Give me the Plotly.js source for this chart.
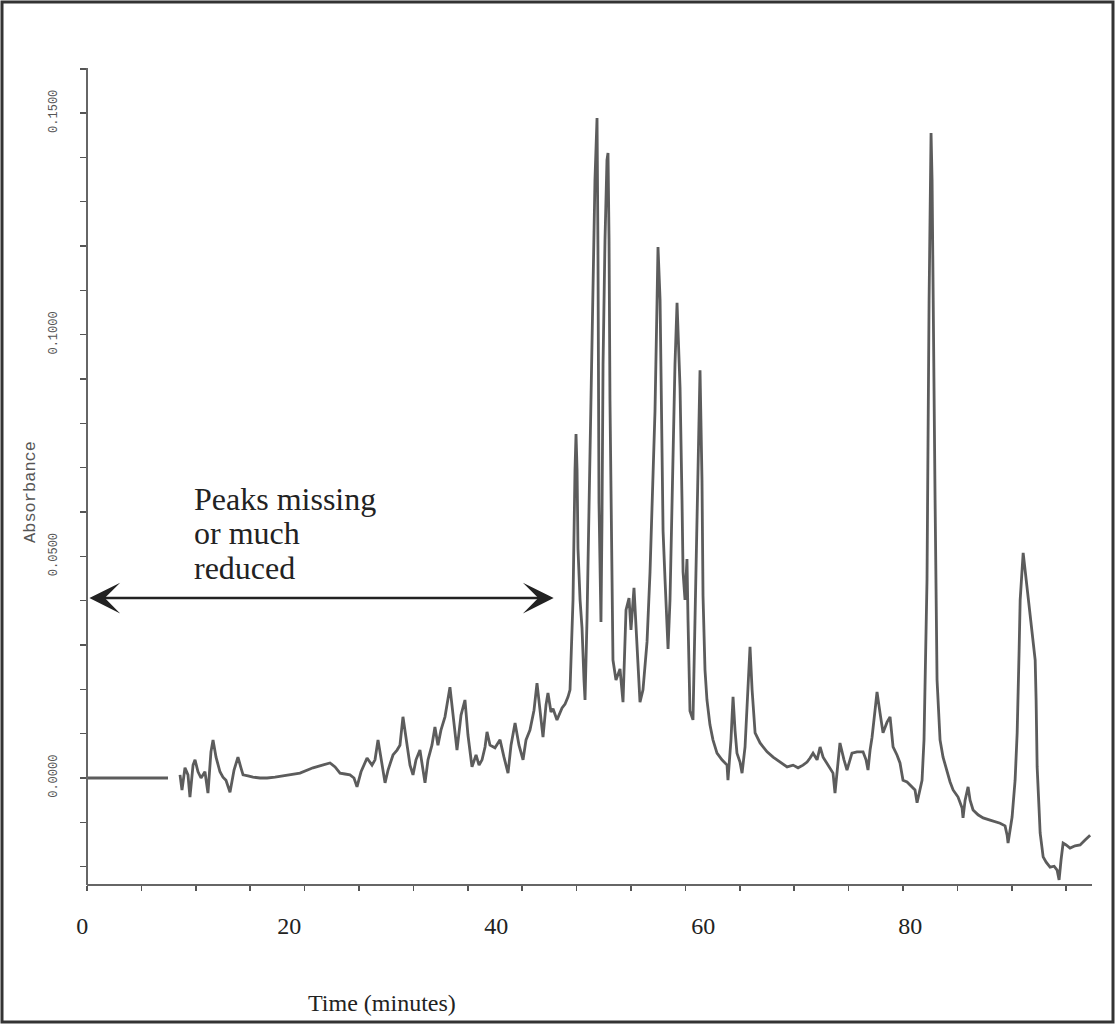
<!DOCTYPE html>
<html>
<head>
<meta charset="utf-8">
<script src="https://cdn.plot.ly/plotly-3.0.1.min.js"></script>
<style>
html,body{margin:0;padding:0;background:#fff;}
#chart{width:1115px;height:1024px;}
</style>
</head>
<body>
<div id="chart"></div>
<script>
// Time (minutes) of each sample; null marks the break in the recorded trace
const timeMin = [
0.46, 4.0, 8.29, null,
9.45, 9.64, 9.93, 10.22, 10.41, 10.71, 10.90, 11.19, 11.48, 11.86, 12.15, 12.44, 12.64, 12.93, 13.31, 13.60,
13.89, 14.28, 14.67, 15.05, 15.34, 15.54, 16.02, 16.50, 17.18, 17.86, 18.63, 19.79, 21.04, 22.30, 23.17, 23.94,
24.43, 24.91, 25.39, 25.87, 26.26, 26.55, 26.94, 27.52, 28.00, 28.29, 28.58, 28.87, 29.26, 29.55, 30.03, 30.42,
30.70, 30.99, 31.28, 31.67, 31.96, 32.25, 32.63, 32.92, 33.12, 33.41, 33.79, 34.08, 34.37, 34.66, 35.05, 35.53,
35.92, 36.21, 36.60, 36.98, 37.27, 37.66, 38.05, 38.34, 38.63, 38.92, 39.11, 39.40, 39.88, 40.37, 40.75, 41.14,
41.43, 41.82, 42.20, 42.59, 42.88, 43.26, 43.65, 43.94, 44.23, 44.52, 44.81, 45.00, 45.29, 45.49, 45.87, 46.16,
46.36, 46.65, 46.94, 47.13, 47.42, 47.61, 47.71, 47.81, 47.90, 48.10, 48.29, 48.48, 48.58, 48.77, 49.06, 49.25,
49.35, 49.54, 49.74, 49.83, 49.93, 50.03, 50.12, 50.22, 50.32, 50.51, 50.70, 50.80, 50.90, 50.99, 51.09, 51.19,
51.28, 51.57, 51.96, 52.25, 52.54, 52.83, 53.02, 53.31, 53.60, 53.89, 54.18, 54.57, 54.86, 55.15, 55.34, 55.54,
55.63, 55.83, 56.02, 56.12, 56.31, 56.50, 56.60, 56.79, 56.98, 57.27, 57.47, 57.66, 57.76, 57.95, 58.05, 58.24,
58.43, 58.53, 58.72, 59.01, 59.21, 59.40, 59.59, 59.69, 59.88, 59.98, 60.17, 60.36, 60.65, 60.94, 61.33, 61.81,
62.30, 62.39, 62.68, 62.88, 63.07, 63.26, 63.55, 63.75, 64.04, 64.33, 64.52, 64.72, 65.01, 65.49, 66.17, 66.75,
67.42, 68.10, 68.68, 69.16, 69.64, 70.03, 70.32, 70.61, 71.00, 71.29, 71.58, 72.06, 72.54, 72.73, 73.02, 73.21,
73.60, 73.89, 74.18, 74.37, 74.86, 75.44, 75.73, 75.92, 76.12, 76.31, 76.60, 76.79, 77.08, 77.37, 77.76, 78.05,
78.34, 78.72, 79.01, 79.30, 79.69, 80.17, 80.46, 80.66, 80.95, 81.14, 81.33, 81.62, 81.82, 81.91, 82.01, 82.11,
82.20, 82.40, 82.59, 82.88, 83.17, 83.56, 83.85, 84.14, 84.62, 85.01, 85.10, 85.30, 85.59, 85.78, 86.07, 86.55,
87.04, 87.71, 88.68, 89.16, 89.36, 89.45, 89.65, 89.84, 90.13, 90.33, 90.52, 90.62, 90.91, 91.10, 91.39, 91.58,
91.87, 92.07, 92.16, 92.26, 92.45, 92.55, 92.84, 93.13, 93.51, 93.90, 94.19, 94.38, 94.57, 94.77, 95.06, 95.44,
95.93, 96.41, 96.89, 97.38
];

// Absorbance
const absorbance = [
0.0000, 0.0000, 0.0000, null,
0.0007, -0.0027, 0.0023, 0.0007, -0.0043, 0.0029, 0.0041, 0.0014, 0.0000, 0.0014, -0.0034, 0.0059, 0.0086, 0.0047, 0.0014, 0.0002,
-0.0005, -0.0032, 0.0018, 0.0047, 0.0023, 0.0007, 0.0005, 0.0002, 0.0000, 0.0000, 0.0002, 0.0007, 0.0011, 0.0023, 0.0029, 0.0034,
0.0025, 0.0011, 0.0009, 0.0007, 0.0000, -0.0020, 0.0014, 0.0045, 0.0029, 0.0041, 0.0086, 0.0041, -0.0011, 0.0018, 0.0052, 0.0063,
0.0074, 0.0138, 0.0086, 0.0029, 0.0007, 0.0041, 0.0063, 0.0023, -0.0011, 0.0041, 0.0074, 0.0115, 0.0074, 0.0108, 0.0138, 0.0205,
0.0131, 0.0063, 0.0142, 0.0176, 0.0097, 0.0025, 0.0052, 0.0029, 0.0041, 0.0070, 0.0104, 0.0074, 0.0068, 0.0086, 0.0047, 0.0011,
0.0074, 0.0124, 0.0074, 0.0041, 0.0086, 0.0108, 0.0153, 0.0214, 0.0153, 0.0092, 0.0165, 0.0192, 0.0149, 0.0156, 0.0131, 0.0149,
0.0158, 0.0167, 0.0183, 0.0199, 0.0402, 0.0695, 0.0776, 0.0695, 0.0517, 0.0402, 0.0338, 0.0221, 0.0176, 0.0356, 0.0724, 0.1011,
0.1139, 0.1349, 0.1489, 0.1191, 0.0620, 0.0402, 0.0352, 0.0582, 0.0932, 0.1214, 0.1394, 0.1410, 0.1214, 0.0853, 0.0620, 0.0402,
0.0266, 0.0221, 0.0246, 0.0171, 0.0379, 0.0406, 0.0334, 0.0429, 0.0307, 0.0171, 0.0199, 0.0307, 0.0465, 0.0672, 0.0828, 0.1078,
0.1198, 0.1078, 0.0740, 0.0557, 0.0447, 0.0350, 0.0291, 0.0402, 0.0620, 0.0932, 0.1072, 0.0943, 0.0880, 0.0627, 0.0465, 0.0402,
0.0494, 0.0356, 0.0151, 0.0131, 0.0356, 0.0620, 0.0853, 0.0920, 0.0672, 0.0411, 0.0244, 0.0176, 0.0120, 0.0086, 0.0056, 0.0041,
0.0029, -0.0005, 0.0086, 0.0183, 0.0108, 0.0056, 0.0036, 0.0011, 0.0070, 0.0221, 0.0296, 0.0199, 0.0102, 0.0079, 0.0059, 0.0047,
0.0036, 0.0025, 0.0029, 0.0023, 0.0029, 0.0036, 0.0045, 0.0056, 0.0041, 0.0070, 0.0047, 0.0029, 0.0011, -0.0034, 0.0029, 0.0079,
0.0041, 0.0018, 0.0041, 0.0056, 0.0059, 0.0059, 0.0041, 0.0018, 0.0063, 0.0092, 0.0153, 0.0194, 0.0147, 0.0102, 0.0126, 0.0138,
0.0070, 0.0052, 0.0034, -0.0005, -0.0009, -0.0020, -0.0027, -0.0056, -0.0027, -0.0005, 0.0086, 0.0447, 0.1078, 0.1304, 0.1455, 0.1349,
0.1078, 0.0627, 0.0221, 0.0086, 0.0047, 0.0014, -0.0009, -0.0027, -0.0043, -0.0068, -0.0090, -0.0050, -0.0020, -0.0050, -0.0072, -0.0083,
-0.0090, -0.0095, -0.0102, -0.0108, -0.0129, -0.0147, -0.0117, -0.0088, -0.0005, 0.0102, 0.0289, 0.0402, 0.0508, 0.0469, 0.0402, 0.0356,
0.0311, 0.0266, 0.0176, 0.0025, -0.0072, -0.0124, -0.0178, -0.0190, -0.0201, -0.0199, -0.0208, -0.0230, -0.0185, -0.0147, -0.0151, -0.0158,
-0.0153, -0.0151, -0.0140, -0.0129
];

const xTickVals = [0, 20, 40, 60, 80];
const xTickText = ['0', '20', '40', '60', '80'];
const yTickVals = [0, 0.05, 0.10, 0.15];
const yTickText = ['0.0000', '0.0500', '0.1000', '0.1500'];
const noteLines = ['Peaks missing', 'or much', 'reduced'];
const xTitle = 'Time (minutes)';
const yTitle = 'Absorbance';

const xRange = [-0.502, 97.56];
const yRange = [-0.02414, 0.16017];
const axisStart = 0.46;           // where the drawn axes meet
const yAxisPos = (axisStart - xRange[0]) / (xRange[1] - xRange[0]);

const serif = 'Liberation Serif, Times New Roman, serif';
const mono = 'Liberation Mono, DejaVu Sans Mono, monospace';

const trace = {
  x: timeMin, y: absorbance, type: 'scatter', mode: 'lines',
  line: {color: 'rgba(70,70,70,0.88)', width: 2.8},
  connectgaps: false, hoverinfo: 'skip'
};

const annotations = [];
const noteY = [0.0629, 0.0553, 0.0474];
noteLines.forEach((t, i) => annotations.push({
  x: 10.6, y: noteY[i], xref: 'x', yref: 'y', text: t, showarrow: false,
  xanchor: 'left', yanchor: 'middle', font: {family: serif, size: 32, color: '#222'}
}));
// double-headed arrow
annotations.push({
  x: 45.55, y: 0.0406, ax: 0.55, ay: 0.0406, xref: 'x', yref: 'y', axref: 'x', ayref: 'y',
  text: '', showarrow: true, arrowside: 'end+start',
  arrowhead: 3, startarrowhead: 3, arrowsize: 1.9, startarrowsize: 1.9,
  arrowwidth: 2.7, arrowcolor: '#222'
});
annotations.push({
  x: (382 - 77) / 1015, y: (885 - 1003) / 817, xref: 'paper', yref: 'paper',
  text: xTitle, showarrow: false, xanchor: 'center', yanchor: 'middle',
  font: {family: serif, size: 24, color: '#222'}
});
annotations.push({
  x: (31 - 77) / 1015, y: (885 - 492) / 817, xref: 'paper', yref: 'paper',
  text: yTitle, showarrow: false, textangle: -90, xanchor: 'center', yanchor: 'middle',
  font: {family: mono, size: 17, color: '#555'}
});

const layout = {
  width: 1115, height: 1024,
  margin: {l: 77, r: 23, t: 68, b: 139},
  paper_bgcolor: '#fff', plot_bgcolor: '#fff',
  showlegend: false,
  xaxis: {
    range: xRange, showgrid: false, zeroline: false, showline: false,
    tickmode: 'array', tickvals: xTickVals, ticktext: xTickText,
    ticks: '', ticklabelstandoff: 24,
    tickfont: {family: serif, size: 24, color: '#222'},
    minor: {tick0: axisStart, dtick: 5.256, ticks: 'outside', ticklen: 5, tickcolor: '#555', tickwidth: 1.5, showgrid: false}
  },
  yaxis: {
    range: yRange, anchor: 'free', position: yAxisPos,
    showgrid: false, zeroline: false, showline: true, linecolor: '#666', linewidth: 2,
    tickmode: 'array', tickvals: yTickVals, ticktext: yTickText,
    ticks: 'outside', ticklen: 6, tickcolor: '#555', tickwidth: 1.5,
    tickangle: -90, ticklabelstandoff: 18,
    tickfont: {family: mono, size: 12, color: '#555'},
    minor: {dtick: 0.01, ticks: 'outside', ticklen: 6, tickcolor: '#555', tickwidth: 1.5, showgrid: false}
  },
  shapes: [
    {type: 'line', xref: 'x', yref: 'paper', x0: axisStart, x1: xRange[1], y0: 0, y1: 0,
     line: {color: '#666', width: 2}},
    {type: 'rect', xref: 'paper', yref: 'paper',
     x0: (2 - 77) / 1015, x1: (1113 - 77) / 1015, y0: (885 - 1022) / 817, y1: (885 - 2) / 817,
     line: {color: '#333', width: 3}}
  ],
  annotations: annotations
};

Plotly.newPlot('chart', [trace], layout, {displayModeBar: false, staticPlot: true});
</script>
</body>
</html>
